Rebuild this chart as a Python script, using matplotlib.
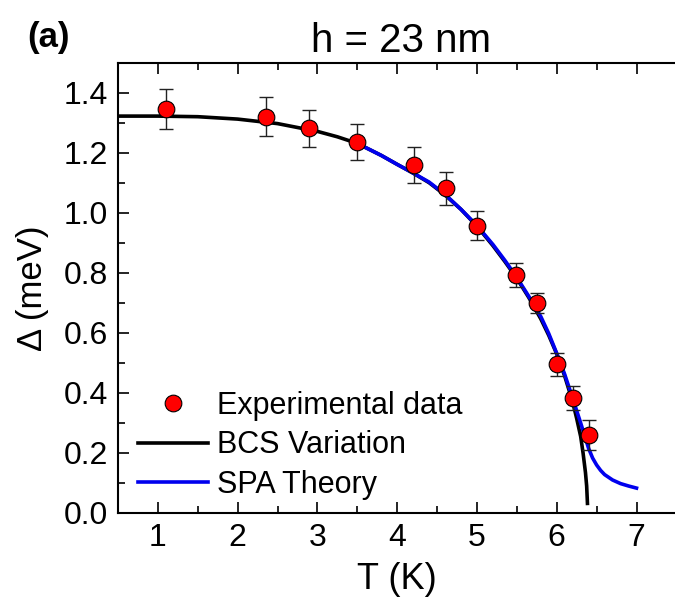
import matplotlib
matplotlib.use('Agg')
import matplotlib.pyplot as plt
from matplotlib.ticker import MultipleLocator

plt.rcParams['font.family'] = ['Liberation Sans', 'DejaVu Sans']

# experimental points
T_exp = [1.10, 2.35, 2.90, 3.50, 4.21, 4.61, 5.00, 5.49, 5.75, 6.00, 6.20, 6.40]
gap_exp = [1.346, 1.321, 1.282, 1.237, 1.159, 1.082, 0.958, 0.793, 0.701, 0.496, 0.384, 0.261]
gap_err = [0.067, 0.065, 0.063, 0.061, 0.060, 0.055, 0.049, 0.039, 0.034, 0.039, 0.040, 0.050]

# BCS variation curve
T_bcs = [0.5, 1.0, 1.5, 2.0, 2.5, 3.0, 3.25, 3.5, 3.8, 4.0, 4.2, 4.4, 4.6, 4.8,
         5.0, 5.2, 5.35, 5.5, 5.65, 5.8, 5.9, 6.0, 6.1, 6.2, 6.25, 6.3, 6.33,
         6.36, 6.375, 6.385]
gap_bcs = [1.323, 1.323, 1.321, 1.313, 1.298, 1.272, 1.254, 1.232, 1.192, 1.162,
           1.133, 1.101, 1.060, 1.012, 0.956, 0.891, 0.838, 0.782, 0.718, 0.647,
           0.592, 0.530, 0.456, 0.370, 0.315, 0.255, 0.200, 0.135, 0.090, 0.032]

# SPA theory curve
T_spa = [3.5, 3.8, 4.0, 4.2, 4.4, 4.6, 4.8, 5.0, 5.2, 5.35, 5.5, 5.65, 5.8, 5.9,
         6.0, 6.1, 6.2, 6.3, 6.4, 6.45, 6.5, 6.55, 6.6, 6.7, 6.8, 6.9, 7.0]
gap_spa = [1.232, 1.192, 1.162, 1.133, 1.103, 1.062, 1.012, 0.958, 0.895, 0.842,
           0.785, 0.722, 0.655, 0.598, 0.532, 0.462, 0.382, 0.300, 0.215, 0.183,
           0.160, 0.142, 0.128, 0.110, 0.098, 0.090, 0.083]

fig = plt.figure(figsize=(6.75, 5.99), dpi=100)
ax = fig.add_axes([118 / 675, 1 - 513 / 599, 558.4 / 675, 450 / 599])

ax.plot(T_bcs, gap_bcs, color='black', lw=2.6, label='BCS Variation', zorder=2)
ax.plot(T_spa, gap_spa, color='#0000ee', lw=2.6, label='SPA Theory', zorder=3)
ax.errorbar(T_exp, gap_exp, yerr=gap_err, fmt='none', ecolor='#222222',
            elinewidth=1.0, capsize=5, capthick=1.0, zorder=4)
ax.plot(T_exp, gap_exp, 'o', color='red', mec='black', mew=0.8, ms=12,
        label='Experimental data', zorder=5)

ax.set_xlim(0.5, 7.5)
ax.set_ylim(0.0, 1.5)
ax.xaxis.set_major_locator(MultipleLocator(1))
ax.xaxis.set_minor_locator(MultipleLocator(0.5))
ax.yaxis.set_major_locator(MultipleLocator(0.2))
ax.yaxis.set_minor_locator(MultipleLocator(0.1))
ax.yaxis.set_major_formatter(plt.FormatStrFormatter('%.1f'))
ax.tick_params(which='both', direction='in', top=True, right=False,
               labelsize=23, width=1.2)
ax.tick_params(axis='x', pad=7)
ax.tick_params(axis='y', pad=7)
ax.tick_params(which='major', length=8)
ax.tick_params(which='minor', length=5)
for s in ax.spines.values():
    s.set_linewidth(1.5)
ax.spines['right'].set_visible(False)

ax.set_xlabel('T (K)', fontsize=26, labelpad=7)
ax.set_ylabel('Δ (meV)', fontsize=25, labelpad=11)
ax.set_title('h = 23 nm', fontsize=29, pad=8, x=0.507)
fig.text(0.04, 0.922, '(a)', fontsize=25, fontweight='bold')

h, l = ax.get_legend_handles_labels()
order = [2, 0, 1]
ax.legend([h[i] for i in order], [l[i] for i in order], loc='lower left',
          bbox_to_anchor=(0.035, 0.03), frameon=False, fontsize=22,
          handlelength=2.3, handletextpad=0.3, labelspacing=0.3,
          borderpad=0, borderaxespad=0)

plt.savefig('out.png', dpi=100)
